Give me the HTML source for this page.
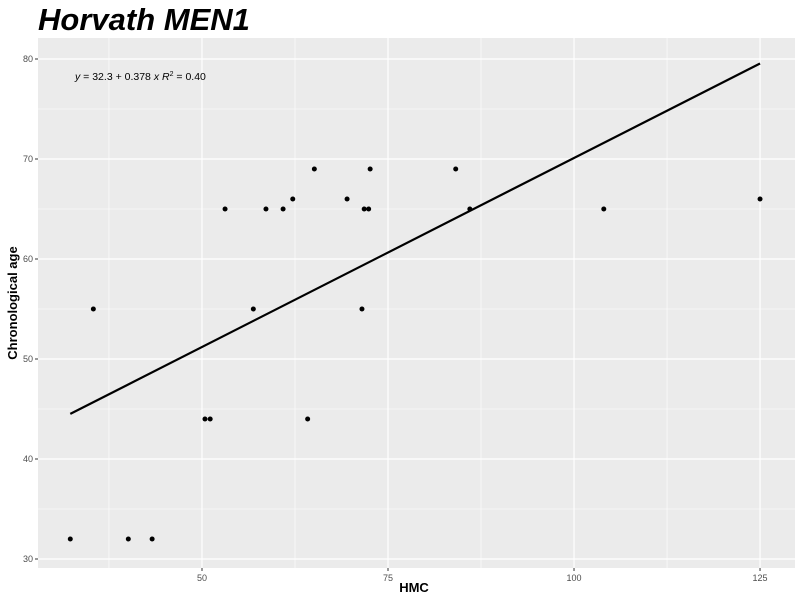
<!DOCTYPE html>
<html><head><meta charset="utf-8"><style>
body{margin:0;background:#fff;}
svg{display:block;font-family:"Liberation Sans",Arial,sans-serif;}
</style></head><body>
<svg id="chart" width="800" height="600"></svg>
<script>
const xVals=[32.3,35.4,40.1,43.3,50.4,51.1,53.1,56.9,58.6,60.9,62.2,64.2,65.1,69.5,71.5,71.8,72.4,72.6,84.1,86.0,104.0,125.0];
const yVals=[32,55,32,32,44,44,65,55,65,65,66,44,69,66,55,65,65,69,69,65,65,66];
const xTicks=[50,75,100,125];
const yTicks=[30,40,50,60,70,80];
const intercept=32.3, slope=0.378;
const NS="http://www.w3.org/2000/svg";
const svg=document.getElementById('chart');
const L=38,R=795,T=38,B=568;
const xmin=27.96,xmax=129.7,ymin=29.1,ymax=82.1;
const sx=v=>L+(v-xmin)/(xmax-xmin)*(R-L);
const sy=v=>B-(v-ymin)/(ymax-ymin)*(B-T);
function mk(t,a,p){const e=document.createElementNS(NS,t);for(const k in a)e.setAttribute(k,a[k]);(p||svg).appendChild(e);return e;}
const bg=mk('rect',{x:L,y:T,width:R-L,height:B-T,fill:'#ebebeb'});


for(let i=0;i<xTicks.length;i++){const m=xTicks[i]-12.5;if(m>xmin)mk('line',{x1:sx(m),x2:sx(m),y1:T,y2:B,stroke:'#fff','stroke-width':0.6});}
mk('line',{x1:sx(xTicks[xTicks.length-1]+12.5),x2:sx(xTicks[xTicks.length-1]+12.5),y1:T,y2:B,stroke:'#fff','stroke-width':0.6});
for(let i=0;i<yTicks.length;i++){const m=yTicks[i]+5;if(m<ymax)mk('line',{x1:L,x2:R,y1:sy(m),y2:sy(m),stroke:'#fff','stroke-width':0.6});}
xTicks.forEach(v=>{
 mk('line',{x1:sx(v),x2:sx(v),y1:T,y2:B,stroke:'#fff','stroke-width':1.2});
 mk('line',{x1:sx(v),x2:sx(v),y1:B,y2:B+3,stroke:'#333'});
 const t=mk('text',{x:sx(v),y:B+13,'font-size':9,fill:'#4d4d4d','text-anchor':'middle'});t.textContent=v;
 
});
yTicks.forEach(v=>{
 mk('line',{x1:L,x2:R,y1:sy(v),y2:sy(v),stroke:'#fff','stroke-width':1.2});
 mk('line',{x1:L-3,x2:L,y1:sy(v),y2:sy(v),stroke:'#333'});
 const t=mk('text',{x:L-5,y:sy(v)+3,'font-size':9,fill:'#4d4d4d','text-anchor':'end'});t.textContent=v;
 
});
const x0=Math.min(...xVals),x1=Math.max(...xVals);
const ln=mk('line',{x1:sx(x0),y1:sy(intercept+slope*x0),x2:sx(x1),y2:sy(intercept+slope*x1),stroke:'#000','stroke-width':2.2});

xVals.forEach((v,i)=>{const c=mk('circle',{cx:sx(v),cy:sy(yVals[i]),r:2.5,fill:'#000'});
 });
</script>
<svg style="position:absolute;left:0;top:0" width="800" height="600">
<text x="38" y="30" font-family="Liberation Sans, sans-serif" font-size="31" font-weight="bold" font-style="italic" fill="#000">Horvath MEN1</text>
<text x="75" y="80" font-family="Liberation Sans, sans-serif" font-size="10.5" fill="#000"><tspan font-style="italic">y</tspan> = 32.3 + 0.378 <tspan font-style="italic">x</tspan>   <tspan font-style="italic">R</tspan><tspan dy="-4" font-size="7">2</tspan><tspan dy="4"> = 0.40</tspan></text>
<text x="414" y="592" text-anchor="middle" font-family="Liberation Sans, sans-serif" font-size="13" font-weight="bold">HMC</text>
<text transform="translate(17,303) rotate(-90)" text-anchor="middle" font-family="Liberation Sans, sans-serif" font-size="13" font-weight="bold">Chronological age</text>
</svg>
</body></html>
